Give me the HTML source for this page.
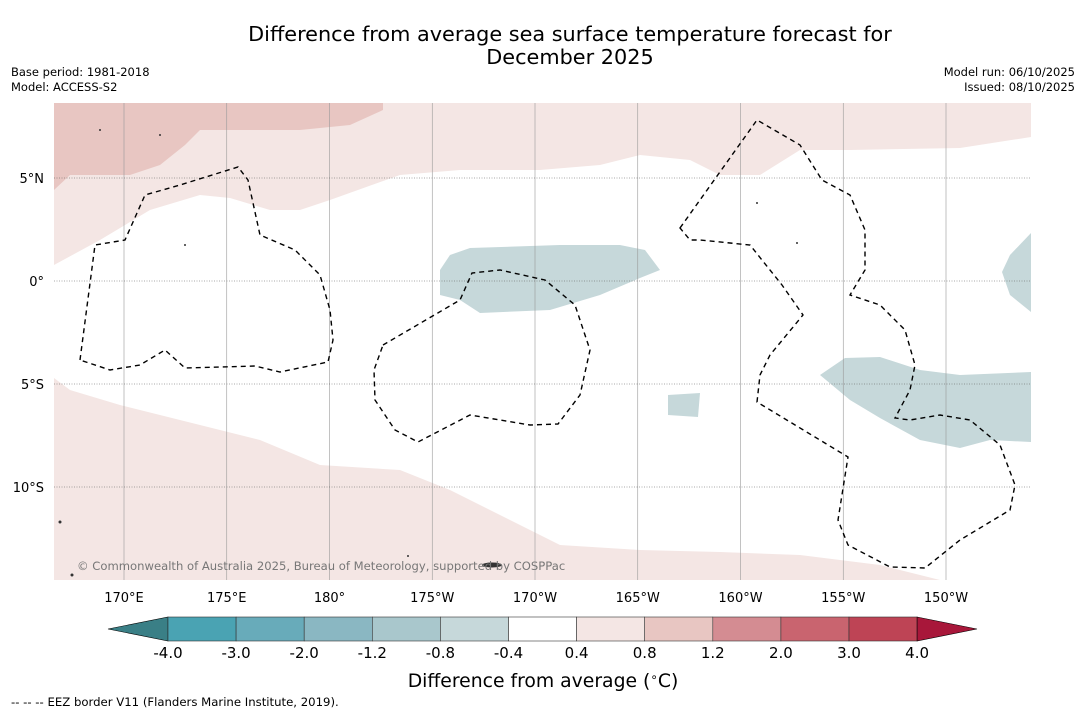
<!DOCTYPE html>
<html><head><meta charset="utf-8"><style>
body{margin:0;width:1085px;height:713px;background:#fff;overflow:hidden;font-family:"DejaVu Sans","Liberation Sans",sans-serif}
</style></head><body>
<svg width="1085" height="713" xmlns="http://www.w3.org/2000/svg" font-family="DejaVu Sans, Liberation Sans, sans-serif">
<text x="570" y="41" font-size="20.8" text-anchor="middle">Difference from average sea surface temperature forecast for</text>
<text x="570" y="64" font-size="20.8" text-anchor="middle">December 2025</text>
<text x="11" y="76" font-size="11.5">Base period: 1981-2018</text>
<text x="11" y="91" font-size="11.5">Model: ACCESS-S2</text>
<text x="1075" y="76" font-size="11.5" text-anchor="end">Model run: 06/10/2025</text>
<text x="1075" y="91" font-size="11.5" text-anchor="end">Issued: 08/10/2025</text>
<g>
<clipPath id="mc"><rect x="54" y="103" width="977" height="477"/></clipPath>
<g clip-path="url(#mc)">
<rect x="54" y="103" width="977" height="477" fill="#fff"/>
<polygon fill="#f4e6e4" points="54,265 54,103 1031,103 1031,137 960,148 850,150 800,150 760,175 720,175 690,160 640,155 600,165 540,170 460,170 400,175 330,200 300,210 270,210 230,198 200,195 150,210 100,240"/>
<polygon fill="#e8c6c2" points="54,103 383,103 383,110 350,125 300,130 200,130 185,145 160,165 130,175 70,175 54,190"/>
<polygon fill="#f4e6e4" points="54,378 70,390 120,405 200,425 260,440 320,465 400,470 450,490 500,515 560,545 640,550 720,552 800,555 880,565 940,580 54,580"/>
<polygon fill="#c6d8da" points="440,270 450,255 470,248 560,245 620,245 645,250 660,270 640,278 600,295 550,310 480,313 460,300 440,295"/>
<polygon fill="#c6d8da" points="820,375 845,358 880,357 920,370 960,375 1031,372 1031,442 990,440 960,448 920,440 880,418 850,400"/>
<polygon fill="#c6d8da" points="668,395 700,393 698,417 668,415"/>
<polygon fill="#c6d8da" points="1031,233 1010,255 1002,272 1010,295 1031,312"/>
<g id="grid"></g>
<g fill="none" stroke="#000" stroke-width="1.4" stroke-dasharray="5,4">
<path d="M80,360 L95,245 125,240 145,195 180,185 238,167 248,180 260,235 295,250 320,275 330,310 333,340 328,362 280,372 255,366 185,368 165,350 140,365 110,370 Z"/>
<path d="M383,345 L460,300 472,273 500,270 545,280 575,305 590,350 580,395 558,424 530,425 470,415 418,442 395,430 375,400 374,370 Z"/>
<path d="M680,228 L757,120 800,145 822,180 850,195 865,230 865,270 850,295 880,305 905,330 915,365 910,390 895,418 910,420 940,415 970,420 1000,445 1015,485 1010,510 960,540 925,568 890,567 848,545 838,520 848,457 757,402 760,375 770,355 803,315 782,285 750,245 700,240 690,240 Z"/>
</g>
<g fill="#333">
<ellipse cx="492" cy="565" rx="10" ry="2.5"/><circle cx="60" cy="522" r="1.5"/><circle cx="72" cy="575" r="1.5"/><circle cx="160" cy="135" r="1"/><circle cx="100" cy="130" r="1"/><circle cx="185" cy="245" r="1"/><circle cx="757" cy="203" r="1"/><circle cx="797" cy="243" r="1"/><circle cx="408" cy="556" r="1"/>
</g>
<text x="77" y="570" font-size="11.6" fill="#777">© Commonwealth of Australia 2025, Bureau of Meteorology, supported by COSPPac</text>
</g>
</g>
<g id="axes" font-size="13"></g>
<g id="cbar"></g>
<text x="543" y="687" font-size="18.8" text-anchor="middle">Difference from average (<tspan font-size="12" dy="-6">∘</tspan><tspan dy="6">C)</tspan></text>
<text x="11" y="706" font-size="11.7">--  --  -- EEZ border V11 (Flanders Marine Institute, 2019).</text>
</svg>
<script>
const lonTicks=["170°E","175°E","180°","175°W","170°W","165°W","160°W","155°W","150°W"];
const lonVals=[170,175,180,185,190,195,200,205,210];
const latTicks=["5°N","0°","5°S","10°S"];
const latVals=[5,0,-5,-10];
const cbarLabels=["-4.0","-3.0","-2.0","-1.2","-0.8","-0.4","0.4","0.8","1.2","2.0","3.0","4.0"];
const cbarColors=["#4aa3b3","#68abba","#8ab7c2","#a9c7cc","#c6d8da","#ffffff","#f4e6e4","#e8c6c2","#d48c92","#c9646f","#be4455"];
const NS="http://www.w3.org/2000/svg";
const xLon=l=>124+(l-170)*20.55;
const yLat=l=>281-l*20.6;
const grid=document.getElementById('grid'),axes=document.getElementById('axes'),cb=document.getElementById('cbar');
function mk(t,a,p){const e=document.createElementNS(NS,t);for(const k in a)e.setAttribute(k,a[k]);p.appendChild(e);return e;}
lonVals.forEach((v,i)=>{const x=xLon(v);
const l=mk('line',{x1:x,x2:x,y1:103,y2:580,stroke:'#999','stroke-width':0.6},grid);


const t=mk('text',{x:x,y:602,'text-anchor':'middle'},axes);t.textContent=lonTicks[i];

});
latVals.forEach((v,i)=>{const y=yLat(v);
const l=mk('line',{x1:54,x2:1031,y1:y,y2:y,stroke:'#555','stroke-width':0.6,'stroke-dasharray':'1,1.5'},grid);


const t=mk('text',{x:44,y:y+5,'text-anchor':'end'},axes);t.textContent=latTicks[i];

});
const x0=168,w=68.1,y0=617,h=24;
const lt=mk('polygon',{points:`108,629 ${x0},${y0} ${x0},${y0+h}`,fill:'#3a7f86',stroke:'#000','stroke-width':0.6},cb);


cbarColors.forEach((c,i)=>{const r=mk('rect',{x:x0+i*w,y:y0,width:w,height:h,fill:c,stroke:'#333','stroke-width':0.6},cb);

});
const xe=x0+cbarColors.length*w;
const rt=mk('polygon',{points:`${xe},${y0} 977,629 ${xe},${y0+h}`,fill:'#a8173a',stroke:'#000','stroke-width':0.6},cb);


cbarLabels.forEach((s,i)=>{const t=mk('text',{x:x0+i*w,y:658,'text-anchor':'middle','font-size':15},cb);t.textContent=s;

});
</script>
</body></html>
